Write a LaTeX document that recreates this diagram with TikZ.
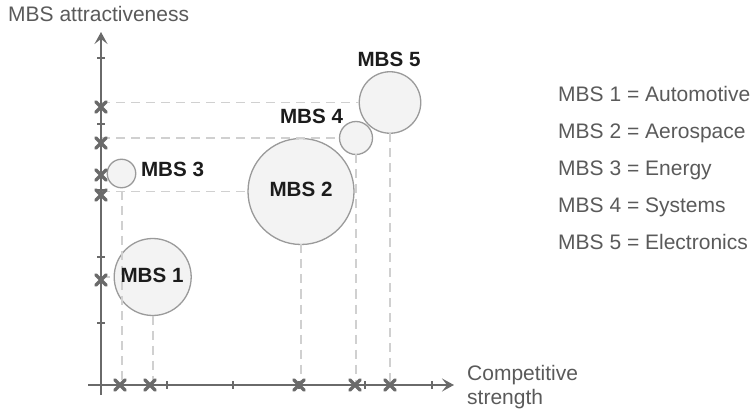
\documentclass[tikz,border=0pt]{standalone}
\usepackage{fontspec}
\setmainfont{Liberation Sans}
\usetikzlibrary{arrows.meta}

\definecolor{axisgray}{HTML}{6A6A6A}
\definecolor{guidegray}{HTML}{D0D0D0}
\definecolor{bubblefill}{HTML}{F3F3F3}
\definecolor{bubbleedge}{HTML}{9A9A9A}
\definecolor{legendgray}{HTML}{5A5A5A}
\definecolor{labelblack}{HTML}{1C1C1C}

\newcommand\legfont{\fontsize{21}{24}\selectfont}
\newcommand\tagfont{\fontsize{20.6}{24}\selectfont\bfseries}

\tikzset{
  axisline/.style={draw=axisgray, line width=2pt},
  guide/.style={draw=guidegray, line width=1.8pt, dash pattern=on 9pt off 6pt},
  bubble/.style={circle, draw=bubbleedge, fill=bubblefill, line width=1.3pt,
                 inner sep=0pt, outer sep=0pt},
  tag/.style={text=labelblack, font=\tagfont, inner sep=0pt, anchor=base},
  legend/.style={text=legendgray, font=\legfont, inner sep=0pt, anchor=base west},
  tickline/.style={draw=axisgray, line width=1.6pt},
  xmark/.pic={\draw[axisgray, line width=3.2pt, line cap=round]
                (-5.2,-5.2) -- (5.2,5.2) (-5.2,5.2) -- (5.2,-5.2);}
}

\begin{document}
\begin{tikzpicture}[x=1pt, y=-1pt]
\useasboundingbox (0,0) rectangle (754,411);

% bubbles
\node[bubble, minimum size=77pt]   (m1) at (152.7,277) {};
\node[bubble, minimum size=106pt]  (m2) at (301,191.5) {};
\node[bubble, minimum size=28.5pt] (m3) at (121.5,173.5) {};
\node[bubble, minimum size=33pt]   (m4) at (356,138) {};
\node[bubble, minimum size=61.5pt] (m5) at (390,102.5) {};

% axis end points
\coordinate (ybot) at (101,395);
\coordinate (ytop) at (101,32);
\coordinate (xleft) at (88,385);
\coordinate (xright) at (454,385);
\coordinate (c3) at (122,191);

% dashed guides to the axes
\draw[guide] (m1.west -| ybot) -- (m1.west);
\draw[guide] (m2.west -| ybot) -- (m2.west);
\draw[guide] (m4.west -| ybot) -- (m4.west);
\draw[guide] (m5.west -| ybot) -- (m5.west);
\draw[guide] (m1.south) -- (m1.south |- xleft);
\draw[guide] (m2.south) -- (m2.south |- xleft);
\draw[guide] (c3) -- (c3 |- xleft);
\draw[guide] (m4.south) -- (m4.south |- xleft);
\draw[guide] (m5.south) -- (m5.south |- xleft);

% axes
\draw[axisline, -{Stealth[length=12pt, width=13pt, inset=5pt]}] (ybot) -- (ytop);
\draw[axisline, -{Stealth[length=12pt, width=13pt, inset=5pt]}] (xleft) -- (xright);

% ticks
\foreach \t in {58,124,190,257,323}
  \draw[tickline] (97,\t) -- (105,\t);
\foreach \t in {167,233,299,365,432}
  \draw[tickline] (\t,381) -- (\t,389);

% projection marks
\foreach \t in {107,143,175,195,280}
  \pic at (101,\t) {xmark};
\foreach \t in {120,150,299,355,390}
  \pic at (\t,385) {xmark};

% bubble labels
\node[tag] (t1) at (152,283) {MBS 1};
\node[tag] (t2) at (301,197) {MBS 2};
\node[tag] (t3) at (172.5,177) {MBS 3};
\node[tag] (t4) at (311.5,124) {MBS 4};
\node[tag] (t5) at (389,67) {MBS 5};

% axis titles
\node[legend] (ya) at (8,22) {MBS attractiveness};
\node[legend] (xa1) at (467,380) {Competitive};
\node[legend] (xa2) at (467,404) {strength};

% legend
\node[legend] (l1) at (558,101.7) {MBS 1 = Automotive};
\node[legend] (l2) at (558,138.8) {MBS 2 = Aerospace};
\node[legend] (l3) at (558,176) {MBS 3 = Energy};
\node[legend] (l4) at (558,213) {MBS 4 = Systems};
\node[legend] (l5) at (558,250) {MBS 5 = Electronics};
\end{tikzpicture}
\end{document}
